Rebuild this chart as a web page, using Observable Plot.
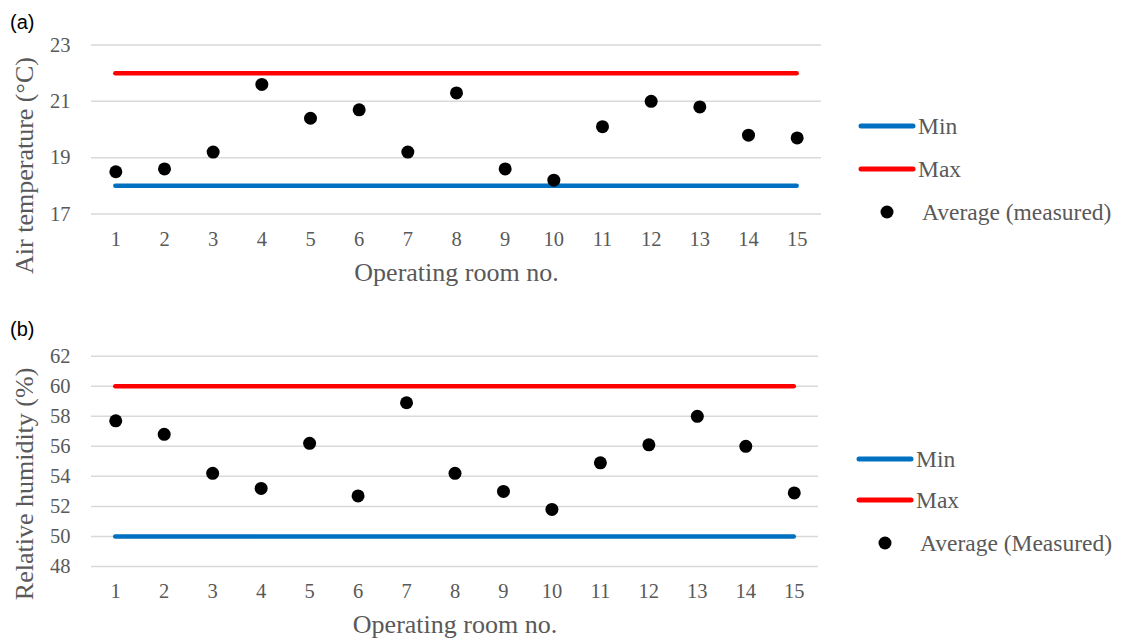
<!DOCTYPE html>
<html><head><meta charset="utf-8">
<script src="https://cdn.jsdelivr.net/npm/d3@7"></script>
<script src="https://cdn.jsdelivr.net/npm/@observablehq/plot@0.6"></script>
<style>
body{margin:0;background:#fff;}
#wrap{position:relative;width:1122px;height:641px;overflow:hidden;background:#fff;font-family:"Liberation Serif","Times New Roman",serif;}
.panel{position:absolute;left:0;}
.tag{position:absolute;left:10px;font-family:"Liberation Sans",Arial,sans-serif;font-size:20px;line-height:1;color:#000;}
.item{position:absolute;height:30px;display:flex;align-items:center;white-space:nowrap;font-size:23.5px;line-height:30px;color:#595959;}
.item svg{display:block;flex:none;}
</style>
</head><body>
<div id="wrap"></div>
<script>
// ---- data ----
const rooms = [1,2,3,4,5,6,7,8,9,10,11,12,13,14,15];
const tempAvg = [18.5,18.6,19.2,21.6,20.4,20.7,19.2,21.3,18.6,18.2,20.1,21.0,20.8,19.8,19.7];
const tempMin = 18, tempMax = 22;
const tempTicks = [17,19,21,23];
const rhAvg = [57.7,56.8,54.2,53.2,56.2,52.7,58.9,54.2,53.0,51.8,54.9,56.1,58.0,56.0,52.9];
const rhMin = 50, rhMax = 60;
const rhTicks = [48,50,52,54,56,58,60,62];
const xTitle = "Operating room no.";
const yTitleA = "Air temperature (°C)";
const yTitleB = "Relative humidity (%)";
const legendA = ["Min","Max","Average (measured)"];
const legendB = ["Min","Max","Average (Measured)"];
const colors = {min:"#0070C0", max:"#FF0000", avg:"#000000", grid:"#D9D9D9", text:"#595959"};

const wrap = document.getElementById("wrap");

function panel(cfg){
  const rows = rooms.map((r,i)=>({room:r, avg:cfg.avg[i]}));
  const first = rooms[0], last = rooms[rooms.length-1];
  const chart = Plot.plot({
    width: 830, height: cfg.height,
    marginLeft: 91, marginRight: cfg.marginRight, marginTop: cfg.marginTop, marginBottom: cfg.marginBottom,
    x: {type:"linear", domain:[first-0.5, last+0.5]},
    y: {domain:[cfg.ticks[0], cfg.ticks[cfg.ticks.length-1]]},
    style: {fontFamily:'"Liberation Serif","Times New Roman",serif', fontSize:"20px", color:colors.text, background:"white", overflow:"visible"},
    marks: [
      Plot.ruleY(cfg.ticks, {stroke:colors.grid, strokeWidth:1.5}),
      Plot.axisY(cfg.ticks, {tickSize:0, tickPadding:21, label:null, fontSize:20.5, tickFormat:d=>String(d)}),
      Plot.axisX(rooms, {tickSize:0, tickPadding:17, label:null, fontSize:20.5, tickFormat:d=>String(d)}),
      Plot.ruleY([cfg.min], {x1:first, x2:last, stroke:colors.min, strokeWidth:4.5, strokeLinecap:"round"}),
      Plot.ruleY([cfg.max], {x1:first, x2:last, stroke:colors.max, strokeWidth:4.5, strokeLinecap:"round"}),
      Plot.dot(rows, {x:"room", y:"avg", r:6.5, fill:colors.avg, stroke:null}),
      Plot.text([xTitle], {text:d=>d, frameAnchor:"bottom", dy:cfg.xTitleDy, fontSize:26, fill:colors.text}),
      Plot.text([cfg.yTitle], {text:d=>d, frameAnchor:"left", rotate:-90, dx:-67, dy:cfg.yTitleDy, fontSize:26, fill:colors.text, textAnchor:"middle"})
    ]
  });
  chart.classList.add("panel");
  chart.style.top = cfg.top + "px";
  wrap.appendChild(chart);

  const tag = document.createElement("div");
  tag.className = "tag"; tag.textContent = cfg.tag; tag.style.top = cfg.tagTop + "px";
  wrap.appendChild(tag);

  const kinds = ["min","max","avg"];
  cfg.legend.forEach((label,i)=>{
    const it = document.createElement("div");
    it.className = "item";
    it.style.left = cfg.legX + "px";
    it.style.top = (cfg.legY[i]-15) + "px";
    const k = kinds[i];
    const sw = k === "avg"
      ? `<svg width="62" height="30"><circle cx="31" cy="15" r="6.5" fill="${colors.avg}"/></svg>`
      : `<svg width="62" height="30"><line x1="5" x2="57" y1="15" y2="15" stroke="${colors[k]}" stroke-width="5" stroke-linecap="round"/></svg>`;
    it.innerHTML = sw + `<span style="margin-left:${k==="avg"?4:0}px">${label}</span>`;
    wrap.appendChild(it);
  });
}

panel({tag:"(a)", tagTop:12, top:0, height:300, marginTop:44.5, marginBottom:86.5, marginRight:9,
  ticks:tempTicks, avg:tempAvg, min:tempMin, max:tempMax, yTitle:yTitleA, xTitleDy:67, yTitleDy:36,
  legend:legendA, legX:856, legY:[126,169,212]});
panel({tag:"(b)", tagTop:319, top:300, height:341, marginTop:55.7, marginBottom:75, marginRight:12,
  ticks:rhTicks, avg:rhAvg, min:rhMin, max:rhMax, yTitle:yTitleB, xTitleDy:66.5, yTitleDy:22.6,
  legend:legendB, legX:854, legY:[459,500,543]});
</script>
</body></html>
